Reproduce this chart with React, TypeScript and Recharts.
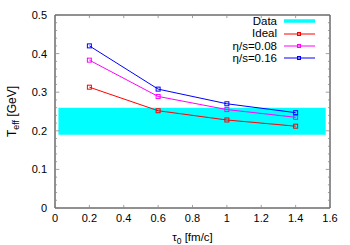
import React from 'react';
import {
  ComposedChart,
  Line,
  XAxis,
  YAxis,
  ReferenceArea,
  ReferenceLine,
} from 'recharts';

// Data
const TAU0 = [0.2, 0.6, 1.0, 1.4];
const IDEAL = [0.313, 0.252, 0.228, 0.212];
const ETA_S_008 = [0.383, 0.289, 0.255, 0.235];
const ETA_S_016 = [0.42, 0.308, 0.27, 0.247];
const DATA_BAND_X = [0.02, 1.575];
const DATA_BAND_Y = [0.19, 0.26];

// Axes
const X_TICKS = [0, 0.2, 0.4, 0.6, 0.8, 1, 1.2, 1.4, 1.6];
const Y_TICKS = [0, 0.1, 0.2, 0.3, 0.4, 0.5];
const Y_MINOR = [
  0.02, 0.04, 0.06, 0.08, 0.12, 0.14, 0.16, 0.18, 0.22, 0.24, 0.26, 0.28,
  0.32, 0.34, 0.36, 0.38, 0.42, 0.44, 0.46, 0.48,
];

const FONT = '"Liberation Sans", Arial, Helvetica, sans-serif';
const TICK_COLOR = '#8a8a8a';

const SERIES = [
  { key: 'ideal', name: 'Ideal', color: '#ff0000' },
  { key: 'eta008', name: 'η/s=0.08', color: '#ff00ff' },
  { key: 'eta016', name: 'η/s=0.16', color: '#0000ff' },
];

const chartData = TAU0.map((tau, i) => ({
  tau,
  ideal: IDEAL[i],
  eta008: ETA_S_008[i],
  eta016: ETA_S_016[i],
}));

function squareDot(color: string) {
  return (props: any) => {
    const { cx, cy, index } = props;
    if (cx == null || cy == null) return <g key={`d-${index}`} />;
    return (
      <rect
        key={`d-${index}`}
        x={cx - 2}
        y={cy - 2}
        width={4}
        height={4}
        fill="none"
        stroke={color}
        strokeWidth={1}
      />
    );
  };
}

function XLabel(props: any) {
  const vb = props.viewBox || { x: 55, width: 275 };
  return (
    <text
      x={vb.x + vb.width / 2}
      y={241}
      textAnchor="middle"
      fontSize={11.5}
      fontFamily={FONT}
      fill="#000"
    >
      τ<tspan fontSize={8.5} dy={3}>0</tspan>
      <tspan dy={-3}> [fm/c]</tspan>
    </text>
  );
}

function YLabel(props: any) {
  const vb = props.viewBox || { y: 15, height: 193 };
  const cy = vb.y + vb.height / 2;
  return (
    <text
      x={16}
      y={cy}
      transform={`rotate(-90, 16, ${cy})`}
      textAnchor="middle"
      fontSize={12}
      fontFamily={FONT}
      fill="#000"
    >
      T<tspan fontSize={9} dy={3}>eff</tspan>
      <tspan dy={-3}> [GeV]</tspan>
    </text>
  );
}

function LegendBox() {
  const rows = [
    { name: 'Data', color: '#00ffff', band: true },
    ...SERIES.map((s) => ({ name: s.name, color: s.color, band: false })),
  ];
  return (
    <div
      style={{
        position: 'absolute',
        left: 190,
        top: 15,
        fontFamily: FONT,
        fontSize: 11.5,
        lineHeight: '12.4px',
      }}
    >
      {rows.map((r) => (
        <div key={r.name} style={{ display: 'flex', alignItems: 'center', height: 12.4 }}>
          <span style={{ width: 87, textAlign: 'right', color: '#000' }}>{r.name}</span>
          <svg width={38} height={12} style={{ marginLeft: 6 }}>
            <line
              x1={1}
              x2={32}
              y1={6}
              y2={6}
              stroke={r.color}
              strokeWidth={r.band ? 3.5 : 1}
            />
            {!r.band && (
              <rect x={14.5} y={4.5} width={3} height={3} fill="none" stroke={r.color} strokeWidth={1} />
            )}
          </svg>
        </div>
      ))}
    </div>
  );
}

export default function App() {
  return (
    <div style={{ position: 'absolute', left: 0, top: 0, width: 350, height: 245, background: '#fff' }}>
      <ComposedChart
        width={350}
        height={245}
        data={chartData}
        margin={{ top: 15, right: 20, left: 0, bottom: 12 }}
      >
        <XAxis
          dataKey="tau"
          type="number"
          domain={[0, 1.6]}
          ticks={X_TICKS}
          interval={0}
          allowDataOverflow
          tickLine={false}
          axisLine={false}
          height={25}
          tickMargin={0}
          tick={{ fill: '#000', fontSize: 11, fontFamily: FONT }}
          label={<XLabel />}
        />
        <YAxis
          type="number"
          domain={[0, 0.5]}
          ticks={Y_TICKS}
          interval={0}
          allowDataOverflow
          tickLine={false}
          axisLine={false}
          width={55}
          tick={{ fill: '#000', fontSize: 11, fontFamily: FONT }}
          label={<YLabel />}
        />
        <ReferenceArea
          x1={DATA_BAND_X[0]}
          x2={DATA_BAND_X[1]}
          y1={DATA_BAND_Y[0]}
          y2={DATA_BAND_Y[1]}
          fill="#00ffff"
          fillOpacity={1}
          stroke="none"
        />
        {Y_MINOR.map((v) => (
          <ReferenceLine
            key={`ml-${v}`}
            segment={[{ x: 0, y: v }, { x: 0.012, y: v }]}
            stroke={TICK_COLOR}
            strokeWidth={0.8}
          />
        ))}
        {Y_MINOR.map((v) => (
          <ReferenceLine
            key={`mr-${v}`}
            segment={[{ x: 1.588, y: v }, { x: 1.6, y: v }]}
            stroke={TICK_COLOR}
            strokeWidth={0.8}
          />
        ))}
        {Y_TICKS.map((v) => (
          <ReferenceLine
            key={`yl-${v}`}
            segment={[{ x: 0, y: v }, { x: 0.025, y: v }]}
            stroke={TICK_COLOR}
            strokeWidth={0.8}
          />
        ))}
        {Y_TICKS.map((v) => (
          <ReferenceLine
            key={`yr-${v}`}
            segment={[{ x: 1.575, y: v }, { x: 1.6, y: v }]}
            stroke={TICK_COLOR}
            strokeWidth={0.8}
          />
        ))}
        {X_TICKS.map((v) => (
          <ReferenceLine
            key={`xb-${v}`}
            segment={[{ x: v, y: 0 }, { x: v, y: 0.008 }]}
            stroke={TICK_COLOR}
            strokeWidth={0.8}
          />
        ))}
        {X_TICKS.map((v) => (
          <ReferenceLine
            key={`xt-${v}`}
            segment={[{ x: v, y: 0.492 }, { x: v, y: 0.5 }]}
            stroke={TICK_COLOR}
            strokeWidth={0.8}
          />
        ))}
        <ReferenceArea
          x1={0}
          x2={1.6}
          y1={0}
          y2={0.5}
          fill="none"
          stroke="#222"
          strokeWidth={1}
        />
        {SERIES.map((s) => (
          <Line
            key={s.key}
            dataKey={s.key}
            name={s.name}
            type="linear"
            stroke={s.color}
            strokeWidth={1}
            dot={squareDot(s.color)}
            activeDot={false}
            isAnimationActive={false}
          />
        ))}
      </ComposedChart>
      <LegendBox />
    </div>
  );
}
